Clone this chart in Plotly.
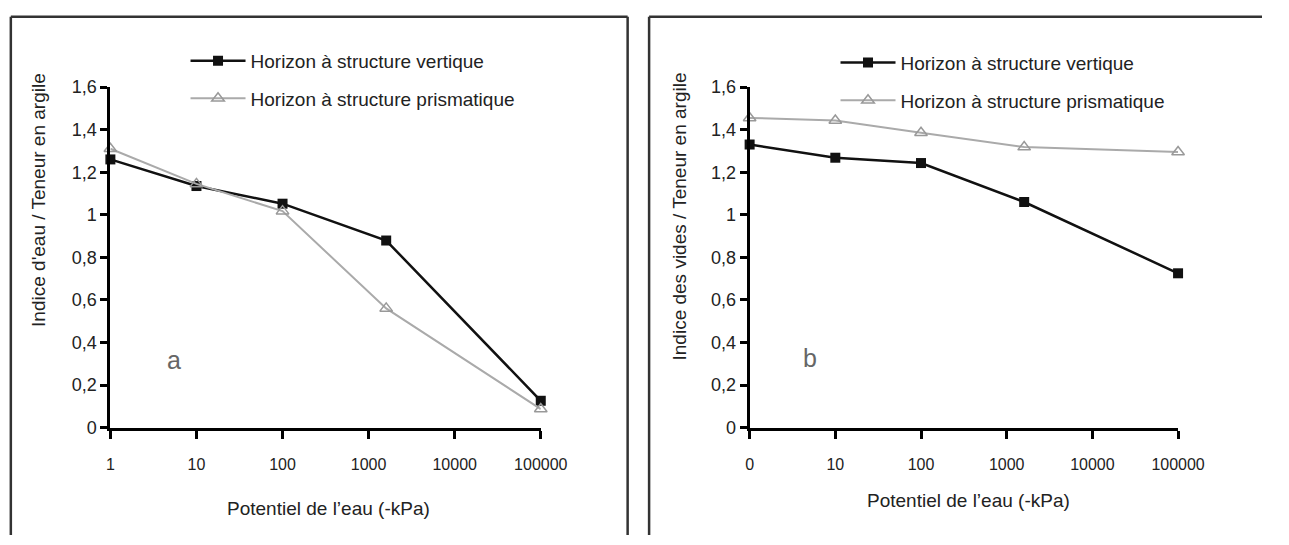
import plotly.graph_objects as go

# ---- data ----
x_pot = [1, 10, 100, 1600, 100000]
tick_vals_x = [1, 10, 100, 1000, 10000, 100000]
tick_text_a = ["1", "10", "100", "1000", "10000", "100000"]
tick_text_b = ["0", "10", "100", "1000", "10000", "100000"]
tick_vals_y = [0, 0.2, 0.4, 0.6, 0.8, 1.0, 1.2, 1.4, 1.6]
tick_text_y = ["0", "0,2", "0,4", "0,6", "0,8", "1", "1,2", "1,4", "1,6"]

a_vertique = [1.26, 1.135, 1.052, 0.879, 0.126]
a_prismatique = [1.31, 1.145, 1.017, 0.56, 0.087]
b_vertique = [1.33, 1.268, 1.243, 1.06, 0.725]
b_prismatique = [1.455, 1.443, 1.385, 1.318, 1.295]

name_v = "Horizon à structure vertique"
name_p = "Horizon à structure prismatique"

W, H = 1289, 545
FONT = "Liberation Sans, Arial, sans-serif"

def px(x):
    return x / W

def py(y):
    return 1 - y / H

fig = go.Figure()

styles = {
    "v": dict(line=dict(color="#111111", width=2.5),
              marker=dict(symbol="square", size=10, color="#111111")),
    "p": dict(line=dict(color="#aaaaaa", width=2),
              marker=dict(symbol="triangle-up-open", size=11, color="#999999",
                          line=dict(width=1.5))),
}

for xa, ya, leg, yv, yp in [("x", "y", "legend", a_vertique, a_prismatique),
                            ("x2", "y2", "legend2", b_vertique, b_prismatique)]:
    fig.add_trace(go.Scatter(x=x_pot, y=yv, name=name_v, mode="lines+markers",
                             xaxis=xa, yaxis=ya, legend=leg, legendgroup=leg + "v",
                             cliponaxis=False, **styles["v"]))
    fig.add_trace(go.Scatter(x=x_pot, y=yp, name=name_p, mode="lines+markers",
                             xaxis=xa, yaxis=ya, legend=leg, legendgroup=leg + "p",
                             cliponaxis=False, **styles["p"]))

y_dom = [py(433.5), py(80)]

common_x = dict(type="log", range=[0, 5], tickvals=tick_vals_x, showgrid=False,
                zeroline=False, showline=True, linecolor="#000", linewidth=3,
                ticks="outside", ticklen=8, tickwidth=3, tickcolor="#000",
                tickfont=dict(family=FONT, size=16, color="#222"),
                ticklabelstandoff=12)
common_y = dict(range=[0, 1.6], tickvals=tick_vals_y, ticktext=tick_text_y,
                showgrid=False, zeroline=False, showline=True, linecolor="#000",
                linewidth=3, ticks="outside", ticklen=7, tickwidth=3, tickcolor="#000",
                tickfont=dict(family=FONT, size=18, color="#222"), domain=y_dom)

leg_common = dict(xanchor="left", yanchor="top", bgcolor="rgba(0,0,0,0)",
                  traceorder="grouped", tracegroupgap=10, itemwidth=55,
                  font=dict(family=FONT, size=19, color="#222"))

fig.update_layout(
    width=W, height=H,
    margin=dict(l=0, r=0, t=0, b=0),
    paper_bgcolor="white", plot_bgcolor="white",
    font=dict(family=FONT, size=19, color="#222"),
    xaxis=dict(domain=[px(109), px(550)], anchor="y", ticktext=tick_text_a, **common_x),
    yaxis=dict(anchor="x", **common_y),
    xaxis2=dict(domain=[px(764), px(1203)], anchor="y2", ticktext=tick_text_b, **common_x),
    yaxis2=dict(anchor="x2", **common_y),
    legend=dict(x=px(186), y=py(33), **leg_common),
    legend2=dict(x=px(852), y=py(35), **leg_common),
    showlegend=True,
)

annotations = [
    dict(text="Potentiel de l\u2019eau (-kPa)", x=px(333), y=py(518)),
    dict(text="Potentiel de l\u2019eau (-kPa)", x=px(988), y=py(509)),
    dict(text="Indice d'eau / Teneur en argile", x=px(36), y=py(197), textangle=-90),
    dict(text="Indice des vides / Teneur en argile", x=px(692), y=py(214), textangle=-90),
]
for a in annotations:
    fig.add_annotation(xref="paper", yref="paper", showarrow=False,
                       xanchor="center", yanchor="middle",
                       font=dict(family=FONT, size=19, color="#222"), **a)

for lbl, x, y in [("a", 174, 363), ("b", 826, 361)]:
    fig.add_annotation(xref="paper", yref="paper", showarrow=False, text=lbl,
                       x=px(x), y=py(y), xanchor="center", yanchor="middle",
                       font=dict(family=FONT, size=25, color="#666"))

# panel frames
border = dict(color="#333", width=2.5)
for x0, y0, x1, y1 in [(7, 7, 7, 545), (7, 7, 639, 7), (639, 7, 639, 545),
                       (661, 7, 661, 545), (661, 7, 1289, 7)]:
    fig.add_shape(type="line", xref="paper", yref="paper",
                  x0=px(x0), y0=py(y0), x1=px(x1), y1=py(y1), line=border)

fig.write_html("out.html",
               post_script="document.body.style.margin='0';"
                           "document.body.style.overflow='hidden';")
